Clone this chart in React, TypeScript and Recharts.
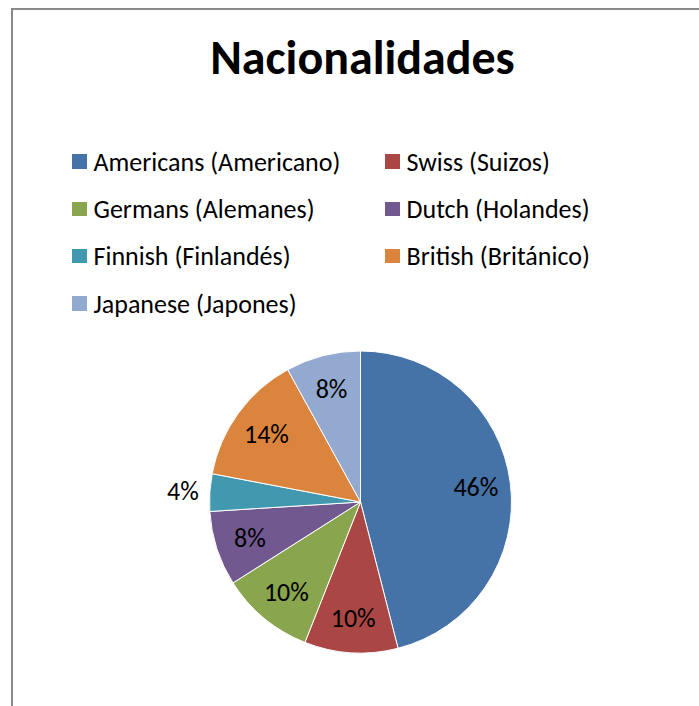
import { PieChart, Pie, Cell } from 'recharts'

const nationalities = [
  'Americans (Americano)',
  'Swiss (Suizos)',
  'Germans (Alemanes)',
  'Dutch (Holandes)',
  'Finnish (Finlandés)',
  'British (Británico)',
  'Japanese (Japones)',
]
const counts = [23, 5, 5, 4, 2, 7, 4]
const colors = ['#4572A7', '#AA4643', '#89A54E', '#71588F', '#4198AF', '#DB843D', '#93A9CF']

const data = nationalities.map((name, i) => ({ name, value: counts[i] }))

const FONT = 'Carlito, Lato, sans-serif'
const RAD = Math.PI / 180

// eslint-disable-next-line @typescript-eslint/no-explicit-any
function renderLabel(props: any) {
  const { cx, cy, midAngle, outerRadius, percent } = props
  // small slices get their label outside, like Excel's best fit
  const r = percent < 0.05 ? outerRadius + 27 : outerRadius * 0.77
  const x = cx + r * Math.cos(-midAngle * RAD)
  const y = cy + r * Math.sin(-midAngle * RAD)
  return (
    <text
      x={x}
      y={y}
      fill="#000"
      textAnchor="middle"
      dominantBaseline="central"
      fontFamily={FONT}
      fontSize={26}
    >
      {`${Math.round(percent * 100)}%`}
    </text>
  )
}

function LegendGrid() {
  return (
    <div
      style={{
        position: 'absolute',
        left: 72,
        top: 138,
        display: 'grid',
        gridTemplateColumns: '313px 280px',
        fontFamily: FONT,
        fontSize: 26,
        color: '#000',
      }}
    >
      {data.map((d, i) => (
        <div key={d.name} style={{ display: 'flex', alignItems: 'center', height: 47.3, whiteSpace: 'nowrap' }}>
          <span style={{ display: 'inline-block', width: 14.5, height: 14.5, background: colors[i], marginRight: 7, flex: 'none' }} />
          <span>{d.name}</span>
        </div>
      ))}
    </div>
  )
}

export default function App() {
  return (
    <div style={{ position: 'absolute', left: 0, top: 0, width: 699, height: 706, overflow: 'hidden', background: '#fff' }}>
      <div
        style={{
          position: 'absolute',
          left: 11,
          top: 8,
          width: 720,
          height: 720,
          border: '2px solid #8a8a8a',
          boxSizing: 'border-box',
        }}
      />
      <div
        style={{
          position: 'absolute',
          left: 0,
          top: 28,
          width: 725,
          textAlign: 'center',
          fontFamily: FONT,
          fontWeight: 'bold',
          fontSize: 48,
          lineHeight: '60px',
          color: '#000',
        }}
      >
        Nacionalidades
      </div>
      <LegendGrid />
      <div style={{ position: 'absolute', left: 0, top: 0 }}>
        <PieChart width={699} height={706} margin={{ top: 0, right: 0, bottom: 0, left: 0 }}>
          <Pie
            data={data}
            dataKey="value"
            nameKey="name"
            cx={360.5}
            cy={502}
            outerRadius={151}
            startAngle={90}
            endAngle={-270}
            stroke="#fff"
            strokeWidth={1}
            label={renderLabel}
            labelLine={false}
            isAnimationActive={false}
          >
            {data.map((d, i) => (
              <Cell key={d.name} fill={colors[i]} />
            ))}
          </Pie>
        </PieChart>
      </div>
    </div>
  )
}
